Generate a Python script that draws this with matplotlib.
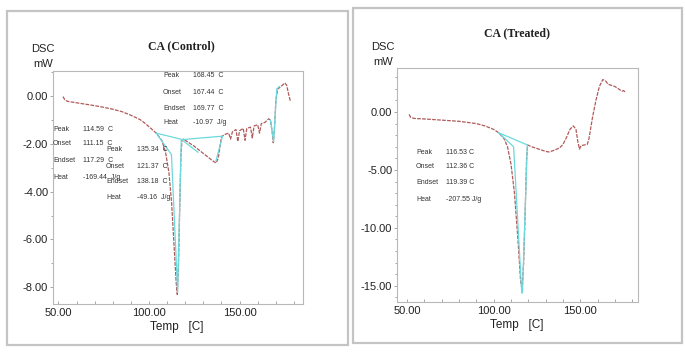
import numpy as np
import matplotlib
matplotlib.use('Agg')
import matplotlib.pyplot as plt
from matplotlib.patches import Rectangle
from matplotlib.ticker import MultipleLocator, FormatStrFormatter
from matplotlib import font_manager

# ---- data: CA (Control) ----
ctrl_temp = [52.5, 53.5, 55, 60, 65, 70, 75, 80, 85, 90, 95, 98, 101, 104, 107, 109, 111,
             112.5, 114, 115, 115.6, 116.3, 117, 117.6, 118.2, 119, 121, 125, 130, 135, 137,
             138.2, 139, 140, 142, 144, 145, 146, 148, 149, 150, 152, 153, 154, 156, 157,
             158, 160, 161, 162, 164, 166, 167, 168, 168.6, 169.3, 170, 171, 172, 173.5,
             175, 176, 177, 178]
ctrl_dsc = [-0.02, -0.15, -0.22, -0.28, -0.34, -0.40, -0.47, -0.55, -0.65, -0.80, -0.98,
            -1.15, -1.35, -1.55, -1.85, -2.3, -3.2, -4.5, -6.5, -7.8, -8.3, -7.0, -4.5, -2.5,
            -1.85, -1.8, -1.9, -2.1, -2.4, -2.7, -2.8, -2.6, -2.2, -1.7, -1.6, -1.55, -1.8,
            -1.5, -1.4, -1.9, -1.45, -1.35, -1.85, -1.35, -1.3, -1.75, -1.25, -1.2, -1.55,
            -1.15, -1.1, -0.95, -1.0, -1.5, -1.95, -1.3, -0.2, 0.3, 0.35, 0.45, 0.55, 0.45,
            0.1, -0.2]
# analysis (baseline / tangent) lines
ctrl_fit = [
    ([104, 118.5, 140], [-1.55, -1.82, -1.68]),
    ([104, 112.4, 115.8, 117.8], [-1.55, -2.45, -8.2, -1.85]),
    ([118.5, 127], [-1.85, -2.35]),
    ([137, 140.5], [-2.7, -1.7]),
    ([167, 168.8, 170.5, 172], [-1.0, -1.9, 0.3, 0.4]),
]
ctrl_labels = [
    (["Peak", "Onset", "Endset", "Heat"], ["168.45  C", "167.44  C", "169.77  C", "-10.97  J/g"]),
    (["Peak", "Onset", "Endset", "Heat"], ["114.59  C", "111.15  C", "117.29  C", "-169.44  J/g"]),
    (["Peak", "Onset", "Endset", "Heat"], ["135.34  C", "121.37  C", "138.18  C", "-49.16  J/g"]),
]

# ---- data: CA (Treated) ----
trt_temp = [51.2, 52, 54, 60, 70, 80, 90, 95, 100, 103, 106, 108, 110, 112, 114, 115.5,
            116.4, 117.3, 118.3, 119, 119.6, 122, 126, 130, 132, 135, 138, 140, 142, 144,
            146, 147.5, 148.5, 149.5, 150.5, 152, 154, 155, 157, 159, 161, 163, 164.5, 166,
            168, 170, 172, 174, 175, 176]
trt_dsc = [-0.2, -0.45, -0.55, -0.6, -0.7, -0.8, -1.0, -1.2, -1.5, -1.8, -2.3, -3.0, -4.5,
           -7.0, -11.0, -14.5, -15.4, -13.0, -8.0, -4.0, -2.85, -3.0, -3.2, -3.4, -3.45,
           -3.3, -3.1, -2.8, -2.2, -1.5, -1.2, -1.5, -2.5, -3.2, -2.9, -2.85, -2.8, -2.3,
           -0.5, 1.0, 2.2, 2.8, 2.7, 2.4, 2.3, 2.2, 2.0, 1.8, 1.85, 1.7]
trt_fit = [
    ([103, 119.6], [-1.8, -2.85]),
    ([103, 111.5, 116.2], [-1.8, -3.0, -15.6]),
    ([116.6, 119.4], [-15.6, -2.85]),
]
trt_labels = [
    (["Peak", "Onset", "Endset", "Heat"], ["116.53 C", "112.36 C", "119.39 C", "-207.55 J/g"]),
]

W, H = 685, 356
RED = '#b05a5a'
CYAN = '#6cd9dc'
TXT = '#333333'

# narrow sans if the machine has it, like the instrument software output
names = {f.name for f in font_manager.fontManager.ttflist}
SANS = 'Liberation Sans Narrow' if 'Liberation Sans Narrow' in names else 'Liberation Sans'

plt.rcParams.update({
    'font.family': [SANS, 'DejaVu Sans'],
    'font.size': 7,
    'xtick.labelsize': 8,
    'ytick.labelsize': 8,
})

fig = plt.figure(figsize=(W / 100, H / 100), dpi=100)


def fx(px):
    return px / W


def fy(py):
    return 1 - py / H


def add_panel(box, ax_box, temp, dsc, fits, label_blocks, xlim, ylim, ymaj, ymin,
              title, title_xy, dsc_xy, xlabel_xy):
    x0, y0, x1, y1 = box
    fig.patches.append(Rectangle((fx(x0), fy(y1)), fx(x1 - x0), (y1 - y0) / H,
                                 transform=fig.transFigure, fill=False,
                                 edgecolor='#c4c4c4', linewidth=1.6))
    l, t, r, b = ax_box
    ax = fig.add_axes([fx(l), fy(b), fx(r - l), (b - t) / H])
    ax.plot(temp, dsc, color=RED, lw=0.9, ls=(0, (3, 1)))
    for fxs, fys in fits:
        ax.plot(fxs, fys, color=CYAN, lw=0.9)
    ax.set_xlim(*xlim)
    ax.set_ylim(*ylim)
    ax.xaxis.set_major_locator(MultipleLocator(50))
    ax.xaxis.set_minor_locator(MultipleLocator(10))
    ax.yaxis.set_major_locator(MultipleLocator(ymaj))
    ax.yaxis.set_minor_locator(MultipleLocator(ymin))
    ax.xaxis.set_major_formatter(FormatStrFormatter('%.2f'))
    ax.yaxis.set_major_formatter(FormatStrFormatter('%.2f'))
    for s in ax.spines.values():
        s.set_color('#b8b8b8')
        s.set_linewidth(0.8)
    ax.tick_params(axis='both', which='both', color='#999999', labelcolor='#222222',
                   width=0.6)
    ax.tick_params(axis='x', which='both', direction='in', length=2.5, pad=3)
    ax.tick_params(axis='y', which='major', direction='out', length=2.5, pad=1)
    ax.tick_params(axis='y', which='minor', direction='out', length=1.5)

    for (lx, vx, rows), (names_, vals) in zip(label_blocks[1], label_blocks[0]):
        for ry, n, v in zip(rows, names_, vals):
            ax.text(lx, ry, n, transform=ax.transAxes, fontsize=5, color=TXT,
                    va='center', ha='left')
            ax.text(vx, ry, v, transform=ax.transAxes, fontsize=5, color=TXT,
                    va='center', ha='left')

    fig.text(fx(title_xy[0]), fy(title_xy[1]), title, family='Liberation Serif',
             fontweight='bold', fontsize=8.5, ha='center', va='center', color='#222222')
    fig.text(fx(dsc_xy[0]), fy(dsc_xy[1]), 'DSC', fontsize=8, ha='center',
             va='center', color='#222222')
    fig.text(fx(dsc_xy[0]), fy(dsc_xy[1] + 15), 'mW', fontsize=8, ha='center',
             va='center', color='#222222')
    fig.text(fx(xlabel_xy[0]), fy(xlabel_xy[1]), 'Temp   [C]', fontsize=8.5, ha='center',
             va='center', color='#222222')
    return ax


ctrl_pos = [
    (0.44, 0.56, [0.979, 0.906, 0.841, 0.777]),
    (0.0, 0.12, [0.747, 0.687, 0.614, 0.545]),
    (0.212, 0.336, [0.661, 0.592, 0.524, 0.455]),
]
trt_pos = [
    (0.079, 0.203, [0.641, 0.577, 0.509, 0.440]),
]

add_panel((7, 11, 348, 345), (53, 71, 303, 304), ctrl_temp, ctrl_dsc, ctrl_fit,
          (ctrl_labels, ctrl_pos), (47, 185), (-8.7, 1.05), 2, 1,
          'CA (Control)', (181, 46), (43, 49), (177, 327))
add_panel((353, 8, 682, 343), (397, 68, 638, 302), trt_temp, trt_dsc, trt_fit,
          (trt_labels, trt_pos), (44.2, 183.3), (-16.4, 3.8), 5, 1,
          'CA (Treated)', (517, 33), (383, 47), (517, 325))

fig.savefig('out.png', dpi=100)
